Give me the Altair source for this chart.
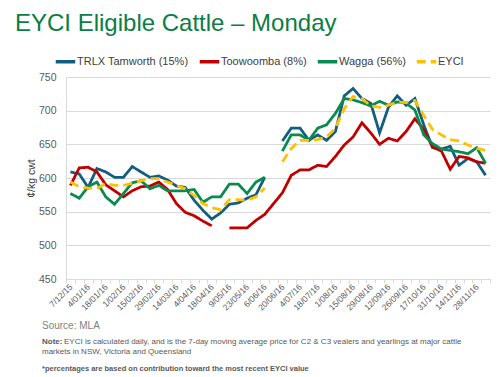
import json
import altair as alt
import pandas as pd

dates = ["7/12/15","14/12/15","4/01/16","11/01/16","18/01/16","25/01/16","1/02/16","8/02/16",
         "15/02/16","22/02/16","29/02/16","7/03/16","14/03/16","21/03/16","4/04/16","11/04/16",
         "18/04/16","2/05/16","9/05/16","16/05/16","23/05/16","30/05/16","6/06/16","13/06/16",
         "20/06/16","27/06/16","4/07/16","11/07/16","18/07/16","25/07/16","1/08/16","8/08/16",
         "15/08/16","22/08/16","29/08/16","5/09/16","12/09/16","19/09/16","26/09/16","10/10/16",
         "17/10/16","24/10/16","31/10/16","7/11/16","14/11/16","21/11/16","28/11/16","5/12/16"]

tamworth = [609,606,586,614,609,601,601,617,609,601,603,597,588,586,567,552,539,548,561,563,
            570,575,601,None,655,674,674,656,664,656,669,722,733,718,711,667,705,722,708,718,
            679,645,643,647,619,629,624,604]
toowoomba = [589,615,616,609,590,581,572,581,587,588,594,583,562,549,544,536,529,None,526,526,
             526,537,546,562,578,604,612,612,619,617,632,649,661,682,667,650,659,655,669,688,
             672,646,640,613,632,630,624,622]
wagga = [577,570,587,594,572,561,577,593,596,584,589,581,581,581,583,564,572,572,591,591,
         577,594,601,None,640,664,664,656,674,679,696,718,716,712,707,714,708,713,711,701,
         664,651,643,641,639,636,645,622]
eyci = [594,587,585,584,592,589,589,592,596,599,599,594,589,584,574,562,556,553,568,568,
        567,572,585,None,624,644,656,656,657,661,674,703,721,718,707,705,708,713,712,715,
        693,672,664,657,655,649,644,641]

series_names = ["TRLX Tamworth (15%)", "Toowoomba (8%)", "Wagga (56%)", "EYCI"]
series_values = [tamworth, toowoomba, wagga, eyci]
colors = ["#135E80", "#C00000", "#0A8A4F", "#FFC000"]
dashes = [[1, 0], [1, 0], [1, 0], [9, 5]]

rows = []
for name, vals in zip(series_names, series_values):
    seg = 0
    for d, v in zip(dates, vals):
        if v is None:
            seg += 1
            continue
        rows.append({"date": d, "value": v, "series": name, "seg": seg})
df = pd.DataFrame(rows)

FONT = "Liberation Sans"
shown = dates[::2]
label_expr = "indexof(" + json.dumps(shown) + ", datum.value) >= 0 ? datum.label : ''"

x_enc = alt.X("date:N", sort=dates, title=None,
              scale=alt.Scale(type="band", paddingInner=0, paddingOuter=0),
              axis=alt.Axis(labelExpr=label_expr, labelAngle=315, labelAlign="right",
                            labelBaseline="middle", labelFontSize=8.5, labelColor="#595959",
                            labelPadding=2, tickBand="extent", tickSize=4, tickColor="#D9D9D9",
                            domainColor="#D9D9D9", grid=False, labelOverlap=False))
y_enc = alt.Y("value:Q", title="¢/kg cwt",
              scale=alt.Scale(domain=[450, 750], nice=False, zero=False),
              axis=alt.Axis(values=list(range(450, 751, 50)), tickSize=0, labelPadding=10,
                            labelFontSize=10.5, labelColor="#595959", gridColor="#D9D9D9",
                            domainColor="#D9D9D9", titleFontSize=10.5, titleColor="#404040",
                            titleFontWeight="normal", titleX=-30))
color_enc = alt.Color("series:N", title=None,
                      scale=alt.Scale(domain=series_names, range=colors),
                      legend=alt.Legend(orient="none", legendX=-12, legendY=-27,
                                        direction="horizontal", symbolType="stroke",
                                        symbolSize=380, symbolStrokeWidth=3.5,
                                        labelFontSize=11, labelColor="#404040",
                                        labelOffset=0, columnPadding=3))
dash_enc = alt.StrokeDash("series:N", title=None,
                          scale=alt.Scale(domain=series_names, range=dashes))

base = alt.Chart(df).encode(x=x_enc, y=y_enc, color=color_enc, strokeDash=dash_enc,
                            detail="seg:N")
solid = base.transform_filter(alt.datum.series != "EYCI").mark_line(strokeWidth=2.8)
dashed = base.transform_filter(alt.datum.series == "EYCI").mark_line(strokeWidth=2.8)

source_txt = ["Source: MLA"]
note_bold = ["Note:"]
note_lines = ["EYCI is calculated daily, and is the 7-day moving average price for C2 & C3 vealers and yearlings at major cattle",
              "markets in NSW, Victoria and Queensland"]
foot_txt = ["*percentages are based on contribution toward the most recent EYCI value"]

src = alt.Chart(pd.DataFrame({"t": source_txt})).mark_text(
    align="left", baseline="middle", fontSize=10, color="#7F7F7F", font=FONT
).encode(text="t:N", x=alt.value(-24), y=alt.value(249))
nb = alt.Chart(pd.DataFrame({"t": note_bold})).mark_text(
    align="left", baseline="middle", fontSize=8, fontWeight="bold", color="#595959", font=FONT
).encode(text="t:N", x=alt.value(-24), y=alt.value(265))
n1 = alt.Chart(pd.DataFrame({"t": note_lines[:1]})).mark_text(
    align="left", baseline="middle", fontSize=8, color="#595959", font=FONT
).encode(text="t:N", x=alt.value(-2), y=alt.value(265))
n2 = alt.Chart(pd.DataFrame({"t": note_lines[1:]})).mark_text(
    align="left", baseline="middle", fontSize=8, color="#595959", font=FONT
).encode(text="t:N", x=alt.value(-24), y=alt.value(274.5))
ft = alt.Chart(pd.DataFrame({"t": foot_txt})).mark_text(
    align="left", baseline="middle", fontSize=7.5, fontWeight="bold", color="#595959", font=FONT
).encode(text="t:N", x=alt.value(-24), y=alt.value(292))

chart = alt.layer(solid, dashed, src, nb, n1, n2, ft).resolve_scale(
    color="shared", strokeDash="shared"
).properties(
    width=424, height=202,
    title=alt.TitleParams("EYCI Eligible Cattle – Monday", anchor="start", frame="group",
                          fontSize=24, fontWeight="normal", color="#0B7D45", font=FONT,
                          baseline="alphabetic", offset=22, dx=-51, dy=27),
    autosize=alt.AutoSizeParams(type="none"),
    padding={"left": 58, "top": 69, "right": 2, "bottom": 98},
).configure(font=FONT).configure_view(stroke=None)

chart.save("out.html", embed_options={"renderer": "svg", "actions": False})
